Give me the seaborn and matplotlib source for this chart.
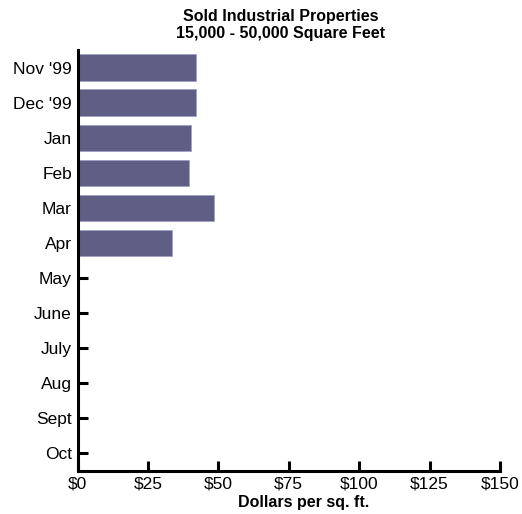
import numpy as np
import pandas as pd
import matplotlib.pyplot as plt
import seaborn as sns

months = ["Nov '99", "Dec '99", "Jan", "Feb", "Mar", "Apr",
          "May", "June", "July", "Aug", "Sept", "Oct"]
sold_months = ["Nov '99", "Dec '99", "Jan", "Feb", "Mar", "Apr"]
price = [42.0, 42.0, 40.3, 39.5, 48.3, 33.4]
xticks = [0, 25, 50, 75, 100, 125, 150]
xtick_labels = ["$0", "$25", "$50", "$75", "$100", "$125", "$150"]

df = pd.DataFrame({"month": sold_months, "price": price})

sns.set_style("white")
plt.rcParams['font.family'] = ['Liberation Sans', 'DejaVu Sans']
plt.rcParams['text.color'] = 'black'
cond = ['Liberation Sans Narrow', 'Liberation Sans', 'DejaVu Sans']

fig = plt.figure(figsize=(5.22, 5.14), dpi=100)
ax = fig.add_axes([0.1485, 0.0837, 0.8095, 0.8190])

sns.barplot(data=df, x="price", y="month", order=months, ax=ax,
            color="#5f5f85", saturation=1, width=0.75,
            edgecolor="#a0a0c4", linewidth=0.6)

ax.set_axisbelow(True)
ax.set_xlim(0, 150)
ax.set_ylim(11.5, -0.5)
ax.set_xticks(xticks)
ax.set_xticklabels(xtick_labels)
ax.set_ylabel("")
ax.set_xlabel("Dollars per sq. ft.", fontsize=11.5, fontweight='bold',
              family=cond, color='black')
ax.xaxis.set_label_coords(0.535, -0.057)

sns.despine(ax=ax)
for s in ["left", "bottom"]:
    ax.spines[s].set_linewidth(2.2)
    ax.spines[s].set_color("black")
ax.tick_params(bottom=True, left=True, direction='in', length=7, width=2.2,
               colors='black', labelcolor='black', labelsize=12.5, pad=4)

fig.text(0.537, 0.967, "Sold Industrial Properties", ha='center', va='center',
         fontsize=11.5, fontweight='bold', family=cond, color='black')
fig.text(0.537, 0.934, "15,000 - 50,000 Square Feet", ha='center', va='center',
         fontsize=11.5, fontweight='bold', family=cond, color='black')

fig.savefig("out.png", dpi=100)
